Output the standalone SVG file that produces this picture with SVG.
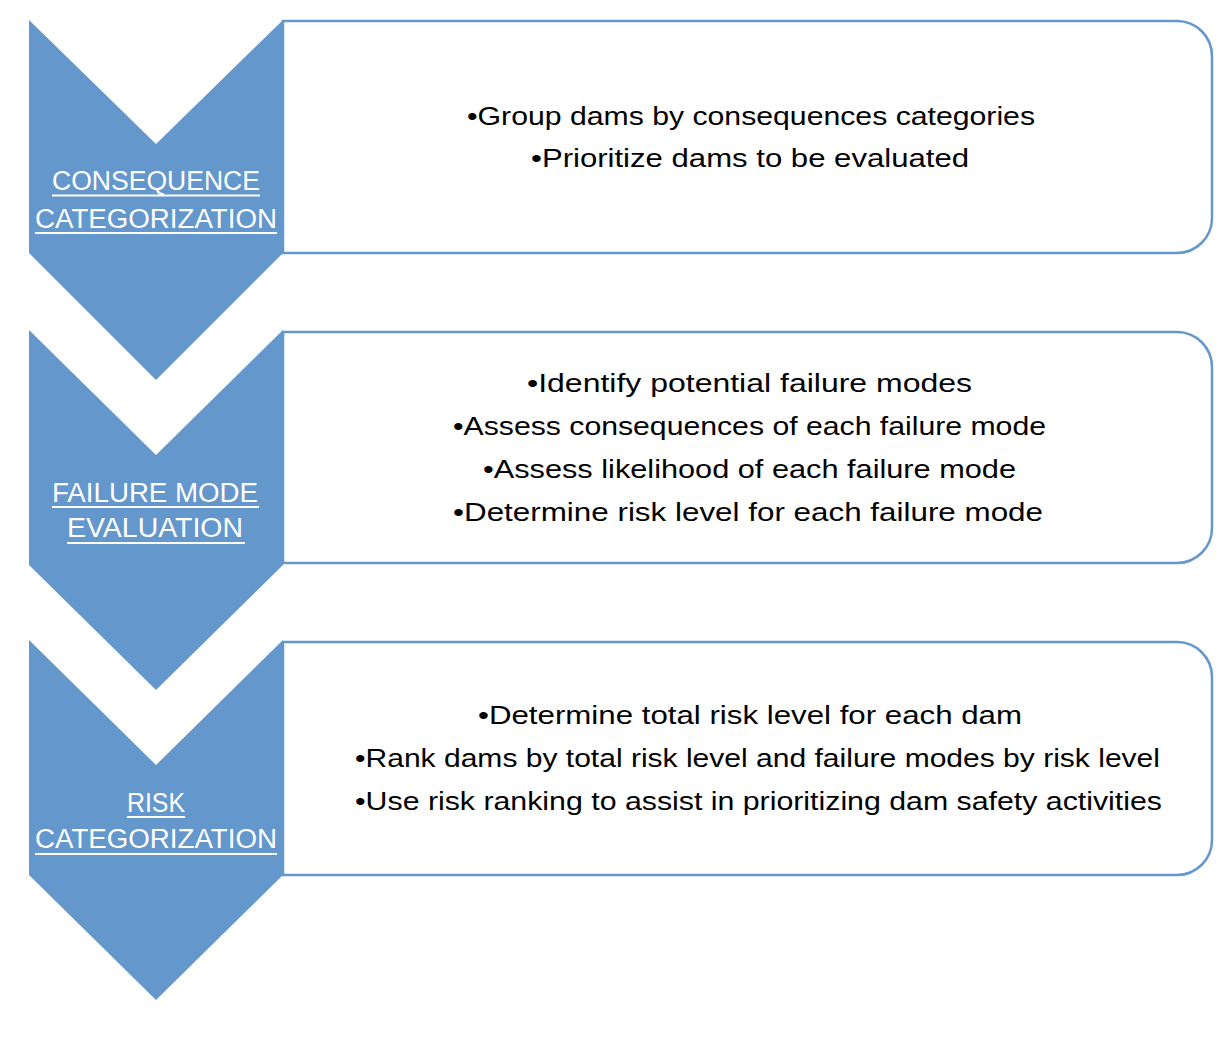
<svg xmlns="http://www.w3.org/2000/svg" width="1227" height="1039" viewBox="0 0 1227 1039">
<style>
.box{fill:#fff;stroke:#6497CC;stroke-width:2.5}
.chev{fill:#6497CC}
.lbl{font-family:"Liberation Sans",Arial,sans-serif;font-size:27px;fill:#fff}
.ul{stroke:#fff;stroke-width:2}
.item{font-family:"Liberation Sans",Arial,sans-serif;font-size:25px;fill:#000}
</style>
<rect width="1227" height="1039" fill="#fff"/>
<g id="box1">
<path class="box" d="M283,21 H1177 A35,35 0 0 1 1212,56 V218 A35,35 0 0 1 1177,253 H283 Z"/>
<text class="item" x="467" y="124.5" textLength="568" lengthAdjust="spacingAndGlyphs">•Group dams by consequences categories</text>
<text class="item" x="531" y="167" textLength="438" lengthAdjust="spacingAndGlyphs">•Prioritize dams to be evaluated</text>
</g>
<g id="box2">
<path class="box" d="M283,332 H1177 A35,35 0 0 1 1212,367 V528 A35,35 0 0 1 1177,563 H283 Z"/>
<text class="item" x="527" y="391.5" textLength="445" lengthAdjust="spacingAndGlyphs">•Identify potential failure modes</text>
<text class="item" x="453" y="434.5" textLength="593" lengthAdjust="spacingAndGlyphs">•Assess consequences of each failure mode</text>
<text class="item" x="483" y="477.5" textLength="533" lengthAdjust="spacingAndGlyphs">•Assess likelihood of each failure mode</text>
<text class="item" x="453" y="520.5" textLength="590" lengthAdjust="spacingAndGlyphs">•Determine risk level for each failure mode</text>
</g>
<g id="box3">
<path class="box" d="M283,642 H1177 A35,35 0 0 1 1212,677 V840 A35,35 0 0 1 1177,875 H283 Z"/>
<text class="item" x="478" y="723.5" textLength="544" lengthAdjust="spacingAndGlyphs">•Determine total risk level for each dam</text>
<text class="item" x="355" y="766.5" textLength="805" lengthAdjust="spacingAndGlyphs">•Rank dams by total risk level and failure modes by risk level</text>
<text class="item" x="355" y="809.5" textLength="807" lengthAdjust="spacingAndGlyphs">•Use risk ranking to assist in prioritizing dam safety activities</text>
</g>
<g id="chevron1">
<path class="chev" d="M29,20 L156,144 L283,20 L283,253 L156,380 L29,253 Z"/>
<text class="lbl" x="52" y="190" textLength="208" lengthAdjust="spacingAndGlyphs">CONSEQUENCE</text>
<line class="ul" x1="52" y1="195.5" x2="260" y2="195.5"/>
<text class="lbl" x="35" y="228.3" textLength="242" lengthAdjust="spacingAndGlyphs">CATEGORIZATION</text>
<line class="ul" x1="35" y1="233" x2="277" y2="233"/>
</g>
<g id="chevron2">
<path class="chev" d="M29,330 L156,455 L283,330 L283,565 L156,690 L29,565 Z"/>
<text class="lbl" x="52" y="501.7" textLength="206" lengthAdjust="spacingAndGlyphs">FAILURE MODE</text>
<line class="ul" x1="52" y1="507" x2="259" y2="507"/>
<text class="lbl" x="67" y="537" textLength="176" lengthAdjust="spacingAndGlyphs">EVALUATION</text>
<line class="ul" x1="67" y1="543" x2="245" y2="543"/>
</g>
<g id="chevron3">
<path class="chev" d="M29,640 L156,765 L283,640 L283,875 L156,1000 L29,875 Z"/>
<text class="lbl" x="127" y="811.7" textLength="58" lengthAdjust="spacingAndGlyphs">RISK</text>
<line class="ul" x1="127" y1="817" x2="185" y2="817"/>
<text class="lbl" x="35" y="848" textLength="242" lengthAdjust="spacingAndGlyphs">CATEGORIZATION</text>
<line class="ul" x1="35" y1="854" x2="277" y2="854"/>
</g>
<g id="connectors"/>
</svg>
